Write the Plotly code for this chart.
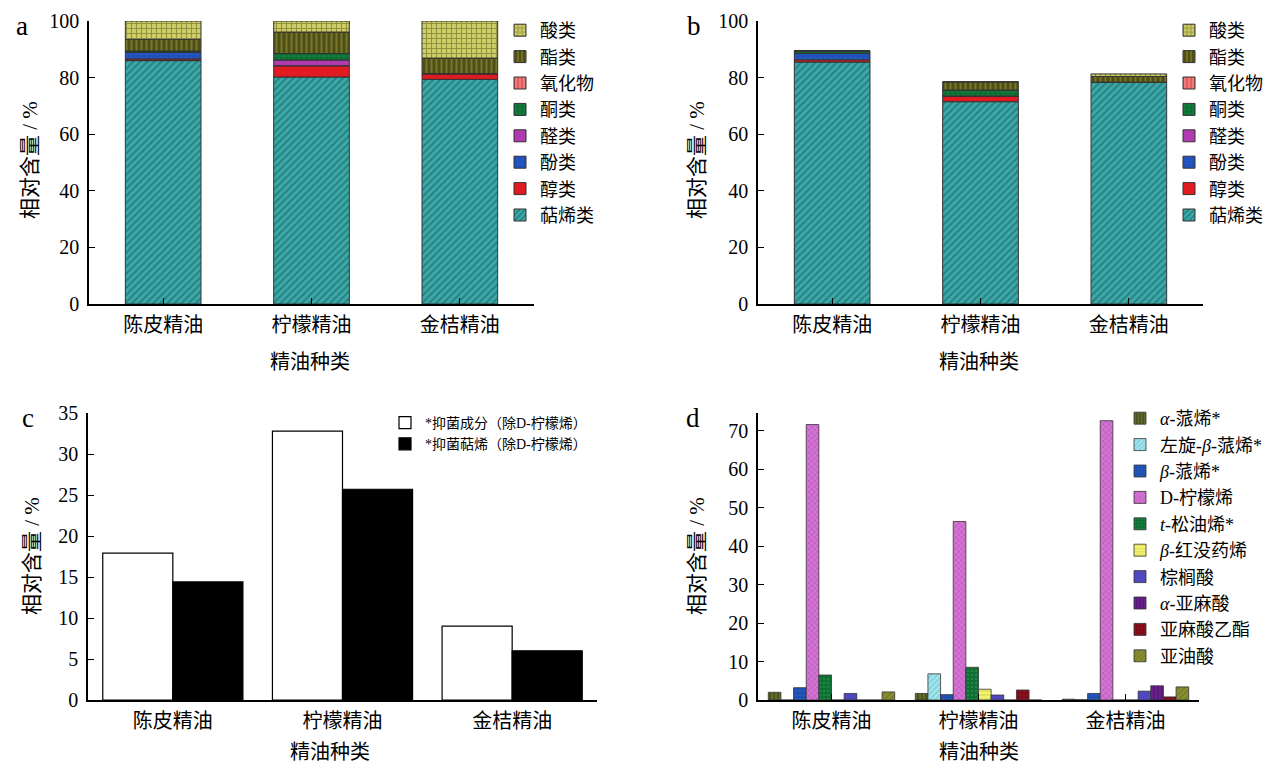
import plotly.graph_objects as go
import numpy as np

categories = ["陈皮精油", "柠檬精油", "金桔精油"]

# Panel a (relative content, %)
a_names = ["萜烯类", "醇类", "酚类", "醛类", "酮类", "氧化物", "酯类", "酸类"]
a_terpene = [86.0, 80.2, 79.4]
a_alcohol = [0.6, 4.0, 2.0]
a_phenol = [2.3, 0.0, 0.0]
a_aldehyde = [0.0, 2.0, 0.0]
a_ketone = [0.5, 2.3, 0.0]
a_oxide = [0.0, 0.0, 0.0]
a_ester = [4.1, 7.6, 5.5]
a_acid = [6.5, 3.9, 13.1]

# Panel b
b_terpene = [85.5, 71.5, 78.4]
b_alcohol = [0.8, 2.0, 0.0]
b_phenol = [2.3, 0.0, 0.0]
b_aldehyde = [0.0, 0.0, 0.0]
b_ketone = [0.9, 2.1, 0.0]
b_oxide = [0.0, 0.0, 0.0]
b_ester = [0.0, 2.9, 2.0]
b_acid = [0.0, 0.0, 0.9]

# Panel c
c_names = ["*抑菌成分（除D-柠檬烯）", "*抑菌萜烯（除D-柠檬烯）"]
c_antibac = [17.9, 32.8, 9.0]
c_terp = [14.4, 25.7, 6.0]

# Panel d
d_names = ["<i>α</i>-蒎烯*", "左旋-<i>β</i>-蒎烯*", "<i>β</i>-蒎烯*", "D-柠檬烯", "<i>t</i>-松油烯*",
           "<i>β</i>-红没药烯", "棕榈酸", "<i>α</i>-亚麻酸", "亚麻酸乙酯", "亚油酸"]
d_apinene = [2.0, 1.7, 0.2]
d_lbpinene = [0.0, 6.8, 0.1]
d_bpinene = [3.2, 1.4, 1.7]
d_limonene = [71.6, 46.4, 72.6]
d_terpinene = [6.5, 8.5, 0.0]
d_bisabolene = [0.0, 2.8, 0.0]
d_palmitic = [1.7, 1.3, 2.3]
d_linolenic = [0.0, 0.0, 3.7]
d_ethyl_linolenate = [0.0, 2.6, 0.8]
d_linoleic = [2.1, 0.0, 3.4]

FONT = "Liberation Serif, Noto Sans CJK SC"
W, H = 1285, 768
OFF = 8  # page body margin

a_styles = [
    ("#3ba9a9", "/", "#1a5656"),
    ("#e01c22", "", "#e01c22"),
    ("#1f4fb8", ".", "#2c64d0"),
    ("#b03ab0", "", "#b03ab0"),
    ("#117a3a", ".", "#0a5a28"),
    ("#f07a7a", "|", "#c03a3a"),
    ("#4e4e16", "|", "#a0a040"),
    ("#cfcf68", "+", "#55551a"),
]
d_styles = [
    ("#4a5520", "|", "#8a9a40"),
    ("#a8e4ec", "/", "#40b8c8"),
    ("#1c4fb0", ".", "#3565c8"),
    ("#d474d4", "x", "#a040a0"),
    ("#0e6e34", ".", "#30a050"),
    ("#f4f470", "-", "#c0c040"),
    ("#5048c0", "", "#5048c0"),
    ("#5a1a7a", "|", "#8a30a8"),
    ("#7a0a14", "+", "#a82030"),
    ("#8a9030", "/", "#5a6020"),
]

fig = go.Figure()
xpos = np.arange(len(categories))


def add_stack(series, xa, ya, legend):
    base = np.zeros(len(categories))
    for name, vals, (bg, shp, fg) in zip(a_names, series, a_styles):
        v = np.array(vals, dtype=float)
        fig.add_trace(go.Bar(
            x=xpos, y=v, base=base.copy(), name=name, width=0.51,
            marker=dict(color=bg, line=dict(color="#333333", width=1),
                        pattern=dict(shape=shp, fgcolor=fg, bgcolor=bg, size=5, solidity=0.4)),
            xaxis=xa, yaxis=ya, legend=legend))
        base = base + v


add_stack([a_terpene, a_alcohol, a_phenol, a_aldehyde, a_ketone, a_oxide, a_ester, a_acid], "x", "y", "legend")
add_stack([b_terpene, b_alcohol, b_phenol, b_aldehyde, b_ketone, b_oxide, b_ester, b_acid], "x2", "y2", "legend2")

cw = 0.413
for i, (name, vals, col) in enumerate(zip(c_names, [c_antibac, c_terp], ["white", "black"])):
    fig.add_trace(go.Bar(
        x=xpos, y=vals, name=name, width=cw, offset=-cw + i * cw,
        marker=dict(color=col, line=dict(color="black", width=1.2)),
        xaxis="x3", yaxis="y3", legend="legend3"))

dseries = [d_apinene, d_lbpinene, d_bpinene, d_limonene, d_terpinene, d_bisabolene,
           d_palmitic, d_linolenic, d_ethyl_linolenate, d_linoleic]
dw = 0.086
for i, (name, vals, (bg, shp, fg)) in enumerate(zip(d_names, dseries, d_styles)):
    fig.add_trace(go.Bar(
        x=xpos, y=vals, name=name, width=dw, offset=-5 * dw + i * dw,
        marker=dict(color=bg, line=dict(color="#333333", width=0.8),
                    pattern=dict(shape=shp, fgcolor=fg, bgcolor=bg, size=4, solidity=0.35)),
        xaxis="x4", yaxis="y4", legend="legend4"))


def px_x(p):
    return (p - OFF) / W


def px_y(p):
    return 1 - (p - OFF) / H


axis_common = dict(showline=True, linecolor="black", linewidth=1.5, ticks="inside",
                   tickcolor="black", ticklen=6, tickwidth=1.2, showgrid=False, zeroline=False,
                   ticklabeloverflow="allow",
                   tickfont=dict(family=FONT, size=20, color="black"))

xcommon = dict(axis_common, tickmode="array", tickvals=list(xpos), ticktext=categories,
               range=[-0.5, 2.5], tickfont=dict(family=FONT, size=20, color="black"),
               ticklabelstandoff=2)

top_ab = px_y(21)
bot_ab = px_y(304)
top_cd = px_y(413)
bot_cd = px_y(700)

leg_common = dict(xanchor="left", yanchor="top", bgcolor="rgba(0,0,0,0)", tracegroupgap=0)

fig.update_layout(
    width=W, height=H, margin=dict(l=0, r=0, t=0, b=0, autoexpand=False),
    paper_bgcolor="white", plot_bgcolor="white", barmode="overlay",
    font=dict(family=FONT, color="black"),
    xaxis=dict(xcommon, domain=[px_x(89), px_x(534)], anchor="y"),
    yaxis=dict(axis_common, domain=[bot_ab, top_ab], anchor="x", range=[0, 100], dtick=20, ticklabelstandoff=4),
    xaxis2=dict(xcommon, domain=[px_x(758), px_x(1203)], anchor="y2"),
    yaxis2=dict(axis_common, domain=[bot_ab, top_ab], anchor="x2", range=[0, 100], dtick=20, ticklabelstandoff=4),
    xaxis3=dict(xcommon, domain=[px_x(88), px_x(597)], anchor="y3"),
    yaxis3=dict(axis_common, domain=[bot_cd, top_cd], anchor="x3", range=[0, 35], dtick=5, ticklabelstandoff=4),
    xaxis4=dict(xcommon, domain=[px_x(758), px_x(1199)], anchor="y4"),
    yaxis4=dict(axis_common, domain=[bot_cd, top_cd], anchor="x4", range=[0, 74.6],
                tickvals=[0, 10, 20, 30, 40, 50, 60, 70], ticklabelstandoff=4),
    legend=dict(leg_common, x=px_x(500), y=px_y(12), traceorder="reversed",
                font=dict(family=FONT, size=18)),
    legend2=dict(leg_common, x=px_x(1169), y=px_y(12), traceorder="reversed",
                 font=dict(family=FONT, size=18)),
    legend3=dict(leg_common, x=px_x(385), y=px_y(407), traceorder="normal",
                 font=dict(family=FONT, size=14)),
    legend4=dict(leg_common, x=px_x(1120), y=px_y(400), traceorder="normal",
                 font=dict(family=FONT, size=18)),
)

ann = []
for lab, x, y in [("a", 22, 26), ("b", 694, 26), ("c", 28, 418), ("d", 693, 418)]:
    ann.append(dict(text=lab, x=px_x(x), y=px_y(y), xref="paper", yref="paper", showarrow=False,
                    font=dict(family=FONT, size=27), xanchor="center", yanchor="middle", borderpad=0))
for x, y in [(310, 362), (979, 362), (330, 752), (979, 752)]:
    ann.append(dict(text="精油种类", x=px_x(x), y=px_y(y), xref="paper", yref="paper", showarrow=False,
                    font=dict(family=FONT, size=20), xanchor="center", yanchor="middle"))
for x, y in [(30, 160), (697, 160), (32, 556), (697, 556)]:
    ann.append(dict(text="相对含量 / %", x=px_x(x), y=px_y(y), xref="paper", yref="paper", showarrow=False,
                    textangle=-90, font=dict(family=FONT, size=21), xanchor="center", yanchor="middle"))
fig.update_layout(annotations=ann)

fig.write_html("out.html")
